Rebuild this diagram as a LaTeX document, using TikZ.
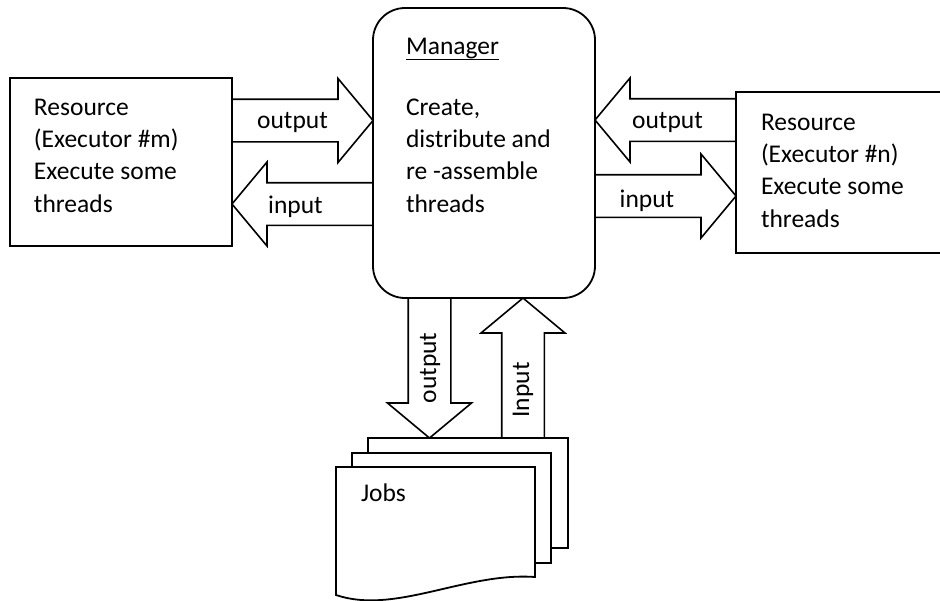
\documentclass[tikz,border=0pt]{standalone}
\usepackage{fontspec}
\setmainfont{Carlito}
\usetikzlibrary{calc,backgrounds}

\tikzset{
  outline/.style={draw=black, line width=1.8pt, fill=white},
  box/.style={outline, rectangle, inner sep=0pt, outer sep=0pt},
  barrow/.style={draw=black, line width=1.6pt, fill=white, line join=miter},
  txt/.style={inner sep=0pt, outer sep=0pt, font=\fontsize{25.5}{32.3}\selectfont, align=left, anchor=base west},
  lbl/.style={inner sep=0pt, outer sep=0pt, font=\fontsize{25.5}{30}\selectfont, anchor=base},
  vlbl/.style={inner sep=0pt, outer sep=0pt, font=\fontsize{25.5}{30}\selectfont, anchor=center, rotate=90},
}

% block arrow from tail #1 to tip #2 (shaft half-width 21.3, head half-width 42, head length 35)
\newcommand\blockarrow[2]{%
  \coordinate (bah) at ($(#2)!35pt!(#1)$);
  \draw[barrow] ($(#1)!21.3pt!90:(#2)$) -- ($(bah)!21.3pt!-90:(#1)$)
    -- ($(bah)!42pt!-90:(#1)$) -- (#2) -- ($(bah)!42pt!90:(#1)$)
    -- ($(bah)!21.3pt!90:(#1)$) -- ($(#1)!21.3pt!-90:(#2)$);
}

\begin{document}
\begin{tikzpicture}[x=1pt, y=-1pt]
  \useasboundingbox (0,0) rectangle (940,600);
  \clip (0,0) rectangle (940,600);

  % main boxes
  \node[box, minimum width=222pt, minimum height=168pt, anchor=north west] (resm) at (10,78) {};
  \node[box, rounded corners=32pt, minimum width=222pt, minimum height=290pt, anchor=north west] (mgr) at (373,8) {};
  \node[box, minimum width=214pt, minimum height=161pt, anchor=north west] (resn) at (736,92) {};

  % stack of job pages
  \node[box, minimum width=200pt, minimum height=110pt, anchor=north west] (page3) at (368,438) {};
  \node[box, minimum width=199pt, minimum height=110pt, anchor=north west] (page2) at (352,453) {};
  \draw[outline] (336,467) coordinate (page1) -- (535,467) -- (535,577)
    .. controls (465,572) and (395,615) .. (336,595) -- cycle;

  % arrow lines
  \coordinate (y1) at (0,120.5);
  \coordinate (y2) at (0,204);
  \coordinate (y3) at (0,120);
  \coordinate (y4) at (0,196);
  \coordinate (x5) at (429.5,0);
  \coordinate (x6) at (523,0);

  \coordinate (a1t) at (resm.east |- y1); \coordinate (a1h) at (mgr.west |- y1);
  \coordinate (a2t) at (mgr.west |- y2);  \coordinate (a2h) at (resm.east |- y2);
  \coordinate (a3t) at (resn.west |- y3); \coordinate (a3h) at (mgr.east |- y3);
  \coordinate (a4t) at (mgr.east |- y4);  \coordinate (a4h) at (resn.west |- y4);
  \coordinate (a5t) at (x5 |- mgr.south); \coordinate (a5h) at (x5 |- page3.north);
  \coordinate (a6t) at (x6 |- page3.north); \coordinate (a6h) at (x6 |- mgr.south);

  % block arrows sit behind the boxes so the box borders stay whole
  \begin{pgfonlayer}{background}
    \fill[white] (0,0) rectangle (940,600);
    \blockarrow{a1t}{a1h}
    \blockarrow{a2t}{a2h}
    \blockarrow{a3t}{a3h}
    \blockarrow{a4t}{a4h}
    \blockarrow{a5t}{a5h}
    \blockarrow{a6t}{a6h}
  \end{pgfonlayer}

  % texts (multi-line nodes are placed by the baseline of their last line)
  \node[txt] (resmtext) at (34,212) {Resource\\(Executor \#m)\\Execute some\\threads};
  \node[txt] (resntext) at (761,227) {Resource\\(Executor \#n)\\Execute some\\threads};
  \node[txt] (mgrtitle) at (406,54) {Manager};
  \draw[line width=1.4pt] ($(mgrtitle.base west)+(0,5.3)$) -- ($(mgrtitle.base east)+(0,5.3)$);
  \node[txt] (mgrtext) at (406,212) {Create,\\distribute and\\re -assemble\\threads};
  \node[txt] (jobstext) at (361,501) {Jobs};

  % arrow labels
  \node[lbl] (l1) at (292.5,128) {output};
  \node[lbl] (l2) at (295.5,213) {input};
  \node[lbl] (l3) at (667.5,128) {output};
  \node[lbl] (l4) at (647,207) {input};
  \node[vlbl] (l5) at (430,368) {output};
  \node[vlbl] (l6) at (523,390) {Input};
\end{tikzpicture}
\end{document}
